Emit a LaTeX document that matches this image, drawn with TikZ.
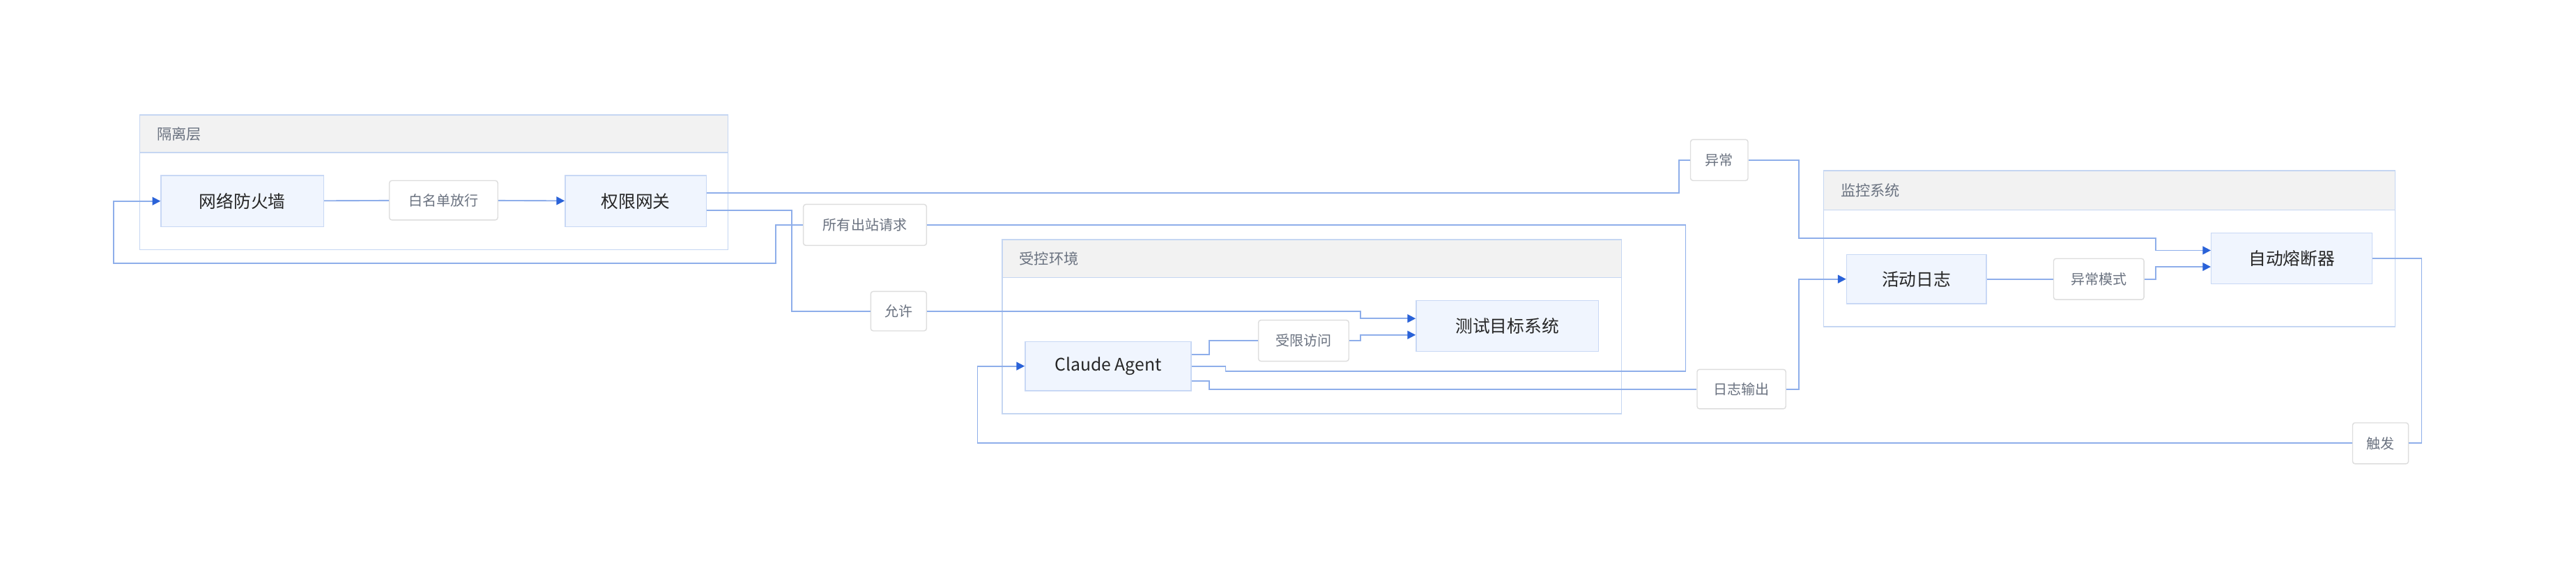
\documentclass[tikz,border=0pt]{standalone}
\usepackage{fontspec}
\setmainfont{Noto Sans CJK SC}
\usetikzlibrary{arrows.meta}
\definecolor{ln}{HTML}{8EAEEA}
\definecolor{ah}{HTML}{2A62D8}
\definecolor{nf}{HTML}{F0F5FE}
\definecolor{nb}{HTML}{C8D8F5}
\definecolor{gb}{HTML}{C5D6F2}
\definecolor{hf}{HTML}{F2F2F2}
\definecolor{lb}{HTML}{DDDDDD}
\definecolor{lt}{HTML}{6A7280}
\begin{document}
\begin{tikzpicture}[x=1pt,y=-1pt,
  box/.style={draw=nb,fill=nf,line width=0.6pt,inner sep=0pt,font=\fontsize{10.5}{12}\selectfont,text=black!85},
  lab/.style={draw=lb,fill=white,rounded corners=1.5pt,line width=0.6pt,inner sep=0pt,font=\fontsize{8.5}{10}\selectfont,text=lt},
  grp/.style={draw=gb,line width=0.6pt},
  hdr/.style={draw=gb,fill=hf,line width=0.6pt},
  gt/.style={anchor=west,font=\fontsize{9}{11}\selectfont,text=lt},
  e/.style={draw=ln,line width=0.8pt},
  a/.style={e,-{Triangle[length=5pt,width=5pt,color=ah]}}]
\useasboundingbox (0,0) rectangle (1568,354.7);
% groups
\draw[grp] (85,70) rectangle (443,152);
\draw[hdr] (85,70) rectangle (443,93);
\node[gt] (g1) at (92,81.5) {隔离层};
\draw[grp] (610,146) rectangle (987,252);
\draw[hdr] (610,146) rectangle (987,169);
\node[gt] (g2) at (617,157.5) {受控环境};
\draw[grp] (1110,104) rectangle (1458,199);
\draw[hdr] (1110,104) rectangle (1458,128);
\node[gt] (g3) at (1117,116) {监控系统};
% nodes
\node[box,minimum width=99pt,minimum height=31pt] (fw) at (147.5,122.5) {网络防火墙};
\node[box,minimum width=86pt,minimum height=31pt] (qx) at (387,122.5) {权限网关};
\node[box,minimum width=101pt,minimum height=30pt] (ca) at (674.5,223) {Claude Agent};
\node[box,minimum width=111pt,minimum height=31pt] (cs) at (917.5,198.5) {测试目标系统};
\node[box,minimum width=85pt,minimum height=30pt] (hd) at (1166.5,170) {活动日志};
\node[box,minimum width=98pt,minimum height=31pt] (zd) at (1395,157.5) {自动熔断器};
% labels
\node[lab,minimum width=66pt,minimum height=24pt] (wl) at (270,122) {白名单放行};
\node[lab,minimum width=75pt,minimum height=25pt] (all) at (526.5,137) {所有出站请求};
\node[lab,minimum width=34pt,minimum height=24pt] (yx) at (547,189.5) {允许};
\node[lab,minimum width=55pt,minimum height=25pt] (sx) at (793.5,207.5) {受限访问};
\node[lab,minimum width=35pt,minimum height=25pt] (yc) at (1046.5,97.5) {异常};
\node[lab,minimum width=54pt,minimum height=24pt] (rz) at (1060,237) {日志输出};
\node[lab,minimum width=55pt,minimum height=25pt] (ycm) at (1277.5,170) {异常模式};
\node[lab,minimum width=34pt,minimum height=25pt] (cf) at (1449,270) {触发};
% edges
\draw[e] (fw) -- (wl);
\draw[a] (wl) -- (qx);
\draw[e] ([yshift=5pt]qx.east) -- (1022,117.5) -- (1022,97.5) -- (yc.west);
\draw[a] (yc.east) -- (1095,97.5) -- (1095,145) -- (1312,145) -- (1312,152.5) -- ([yshift=5pt]zd.west);
\draw[e] ([yshift=-5.5pt]qx.east) -- (482,128) -- (482,189.5) -- (yx.west);
\draw[a] (yx.east) -- (828,189.5) -- (828,194) -- ([yshift=4.5pt]cs.west);
\draw[e] ([yshift=7pt]ca.east) -- (736,216) -- (736,207.5) -- (sx.west);
\draw[a] (sx.east) -- (828,207.5) -- (828,204) -- ([yshift=-5.5pt]cs.west);
\draw[e] (ca.east) -- (746,223) -- (746,226) -- (1026,226) -- (1026,137) -- (all.east);
\draw[a] (all.west) -- (472,137) -- (472,160.5) -- (69,160.5) -- (69,122.5) -- (fw.west);
\draw[e] ([yshift=-9pt]ca.east) -- (736,232) -- (736,237) -- (rz.west);
\draw[a] (rz.east) -- (1095,237) -- (1095,170) -- (hd.west);
\draw[e] (hd) -- (ycm);
\draw[a] (ycm.east) -- (1312,170) -- (1312,162.5) -- ([yshift=-5pt]zd.west);
\draw[e] (zd.east) -- (1474,157.5) -- (1474,270) -- (cf.east);
\draw[a] (cf.west) -- (595,270) -- (595,223) -- (ca.west);
\end{tikzpicture}
\end{document}
